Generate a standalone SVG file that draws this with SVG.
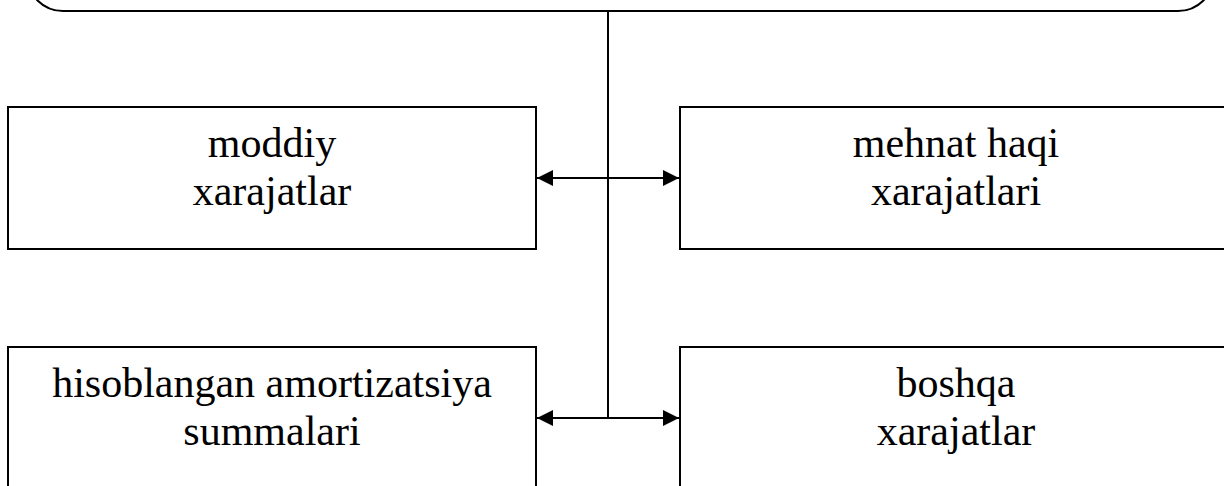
<svg xmlns="http://www.w3.org/2000/svg" width="1224" height="486" viewBox="0 0 1224 486">
<style>
.box{fill:#fff;stroke:#000;stroke-width:2}
.lbl{font-family:"Liberation Serif","Times New Roman",serif;font-size:42px;fill:#000;text-anchor:middle}
.ln{stroke:#000;stroke-width:2;fill:none}
</style>
<defs>
<marker id="ah" markerUnits="userSpaceOnUse" markerWidth="16" markerHeight="16" viewBox="0 0 16 16" refX="16" refY="8" orient="auto">
<path d="M0,0 L16,8 L0,16 Z" fill="#000"/>
</marker>
</defs>
<rect width="1224" height="486" fill="#fff"/>
<g id="top">
<rect class="box" x="27" y="-100" width="1187" height="111" rx="36" ry="36"/>
</g>
<g id="connectors">
<line class="ln" x1="608" y1="11" x2="608" y2="418"/>
<line class="ln" x1="608" y1="178" x2="537" y2="178" marker-end="url(#ah)"/>
<line class="ln" x1="608" y1="178" x2="679" y2="178" marker-end="url(#ah)"/>
<line class="ln" x1="608" y1="418" x2="537" y2="418" marker-end="url(#ah)"/>
<line class="ln" x1="608" y1="418" x2="679" y2="418" marker-end="url(#ah)"/>
</g>
<g id="moddiy">
<rect class="box" x="8" y="107" width="528" height="142"/>
<text class="lbl" x="272" y="157">moddiy</text>
<text class="lbl" x="272" y="205">xarajatlar</text>
</g>
<g id="mehnat">
<rect class="box" x="680" y="107" width="552" height="142"/>
<text class="lbl" x="956" y="157">mehnat haqi</text>
<text class="lbl" x="956" y="205">xarajatlari</text>
</g>
<g id="amortizatsiya">
<rect class="box" x="8" y="347" width="528" height="160"/>
<text class="lbl" x="272" y="397">hisoblangan amortizatsiya</text>
<text class="lbl" x="272" y="445">summalari</text>
</g>
<g id="boshqa">
<rect class="box" x="680" y="347" width="552" height="160"/>
<text class="lbl" x="956" y="397">boshqa</text>
<text class="lbl" x="956" y="445">xarajatlar</text>
</g>
</svg>
